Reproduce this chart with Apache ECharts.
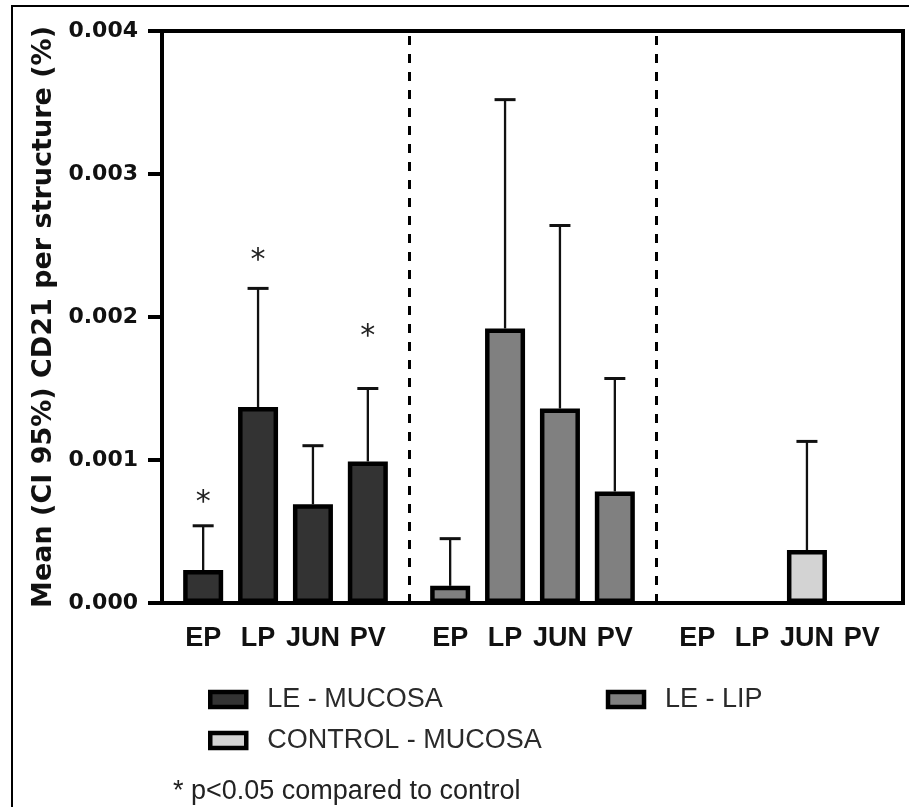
<!DOCTYPE html>
<html>
<head>
<meta charset="utf-8">
<script src="https://cdn.jsdelivr.net/npm/echarts@6/dist/echarts.min.js"></script>
<style>
  html, body { margin: 0; background: #fff; }
  #chart { width: 909px; height: 807px; }
</style>
</head>
<body>
<div id="chart"></div>
<script>
// data
const sites = ['EP', 'LP', 'JUN', 'PV'];
const groupNames = ['LE - MUCOSA', 'LE - LIP', 'CONTROL - MUCOSA'];
const leMucosaMean = [0.00023, 0.00137, 0.00069, 0.00099];
const leMucosaUpper = [0.00054, 0.0022, 0.0011, 0.0015];
const leLipMean = [0.00012, 0.00192, 0.00136, 0.00078];
const leLipUpper = [0.00045, 0.00352, 0.00264, 0.00157];
const controlMean = [0, 0, 0.00037, 0];
const controlUpper = [null, null, 0.00113, null];
// asterisks (p<0.05 vs control) over LE - MUCOSA bars
const starHeights = [0.00074, 0.00243, null, 0.0019];
const yTicks = [0, 0.001, 0.002, 0.003, 0.004];
const footnote = '* p<0.05 compared to control';

const fills = ['#333333', '#808080', '#d3d3d3'];
const meanSets = [leMucosaMean, leLipMean, controlMean];
const upperSets = [leMucosaUpper, leLipUpper, controlUpper];

// every group gets 9 half-width slots, bars sit on every other one
const SLOTS_PER_GROUP = 9;
const slotOf = (g, k) => g * SLOTS_PER_GROUP + 1 + 2 * k;
const slotCount = groupNames.length * SLOTS_PER_GROUP;
const slotLabels = [];
for (let i = 0; i < slotCount; i++) slotLabels.push('');
groupNames.forEach((_, g) => sites.forEach((s, k) => { slotLabels[slotOf(g, k)] = s; }));

const errData = [];
upperSets.forEach((ups, g) => ups.forEach((u, k) => {
  if (u != null) errData.push([slotOf(g, k) + 0.5, meanSets[g][k], u]);
}));
const starData = [];
starHeights.forEach((h, k) => { if (h != null) starData.push([slotOf(0, k) + 0.5, h]); });
const dividers = [];
for (let g = 1; g < groupNames.length; g++) dividers.push({ xAxis: g * SLOTS_PER_GROUP });

const chart = echarts.init(document.getElementById('chart'));

const barSeries = groupNames.map((name, g) => ({
  name: name,
  type: 'bar',
  xAxisIndex: 1,
  barWidth: 40,
  barGap: '-100%',
  z: 3,
  itemStyle: { color: fills[g], borderColor: '#000', borderWidth: 4.5 },
  // a zero mean leaves no bar, only the axis line
  data: meanSets[g].map((v, k) => [slotOf(g, k) + 0.5, v === 0 ? '-' : v])
}));
barSeries[0].markLine = {
  silent: true,
  symbol: 'none',
  label: { show: false },
  lineStyle: { color: '#000', width: 3, type: [9, 9] },
  data: dividers
};

chart.setOption({
  animation: false,
  grid: {
    left: 162, top: 31, right: 6, bottom: 204,
    show: true, borderColor: '#000', borderWidth: 4
  },
  graphic: [{
    type: 'rect',
    shape: { x: 12, y: 6, width: 940, height: 840 },
    style: { fill: 'none', stroke: '#000', lineWidth: 2 },
    silent: true
  }],
  title: {
    text: footnote,
    left: 168, top: 773,
    textStyle: { fontFamily: 'Liberation Sans', fontSize: 27, fontWeight: 'normal', color: '#222' }
  },
  legend: [{
    data: [groupNames[0], groupNames[1]],
    left: 203, top: 681,
    itemWidth: 36, itemHeight: 15, itemGap: 163,
    icon: 'rect', selectedMode: false,
    itemStyle: { borderColor: '#000', borderWidth: 4.5 },
    textStyle: { fontFamily: 'Liberation Sans', fontSize: 27, color: '#2a2a2a', padding: [0, 0, 0, 16] }
  }, {
    data: [groupNames[2]],
    left: 203, top: 722,
    itemWidth: 36, itemHeight: 15,
    icon: 'rect', selectedMode: false,
    itemStyle: { borderColor: '#000', borderWidth: 4.5 },
    textStyle: { fontFamily: 'Liberation Sans', fontSize: 27, color: '#2a2a2a', padding: [0, 0, 0, 16] }
  }],
  xAxis: [{
    type: 'category',
    data: slotLabels,
    boundaryGap: true,
    axisLine: { lineStyle: { color: '#000', width: 4 } },
    axisTick: {
      alignWithLabel: true, length: 13,
      interval: (i, v) => v !== '',
      lineStyle: { color: '#000', width: 4 }
    },
    axisLabel: {
      interval: 0, margin: 22,
      fontFamily: 'Liberation Sans', fontWeight: 'bold', fontSize: 27, color: '#111'
    },
    splitLine: { show: false }
  }, {
    type: 'value',
    position: 'top',
    min: 0, max: slotCount,
    show: false
  }],
  yAxis: {
    type: 'value',
    min: yTicks[0], max: yTicks[yTicks.length - 1],
    interval: yTicks[1] - yTicks[0],
    name: 'Mean (CI 95%) CD21 per structure (%)',
    nameLocation: 'middle', nameRotate: 90, nameGap: 100,
    nameTextStyle: { fontFamily: 'DejaVu Sans', fontWeight: 'bold', fontSize: 27, color: '#111' },
    axisLine: { show: true, lineStyle: { color: '#000', width: 4 } },
    axisTick: { show: true, length: 14, lineStyle: { color: '#000', width: 4 } },
    axisLabel: {
      margin: 24,
      formatter: v => v.toFixed(3),
      fontFamily: 'DejaVu Sans', fontWeight: 'bold', fontSize: 22, color: '#111'
    },
    splitLine: { show: false }
  },
  series: barSeries.concat([{
    type: 'custom',
    xAxisIndex: 1,
    z: 2,
    silent: true,
    data: errData,
    renderItem: (params, api) => {
      const base = api.coord([api.value(0), api.value(1)]);
      const top = api.coord([api.value(0), api.value(2)]);
      return {
        type: 'group',
        children: [{
          type: 'line',
          shape: { x1: base[0], y1: base[1], x2: top[0], y2: top[1] },
          style: { stroke: '#111', lineWidth: 2.3 }
        }, {
          type: 'line',
          shape: { x1: top[0] - 10.5, y1: top[1], x2: top[0] + 10.5, y2: top[1] },
          style: { stroke: '#111', lineWidth: 3 }
        }]
      };
    }
  }, {
    type: 'custom',
    xAxisIndex: 1,
    z: 4,
    silent: true,
    data: starData,
    renderItem: (params, api) => {
      const p = api.coord([api.value(0), api.value(1)]);
      return {
        type: 'text',
        x: p[0], y: p[1] + 6,
        style: {
          text: '*', fill: '#222',
          font: '30px "DejaVu Sans"',
          align: 'center', verticalAlign: 'middle'
        }
      };
    }
  }])
});
</script>
</body>
</html>
